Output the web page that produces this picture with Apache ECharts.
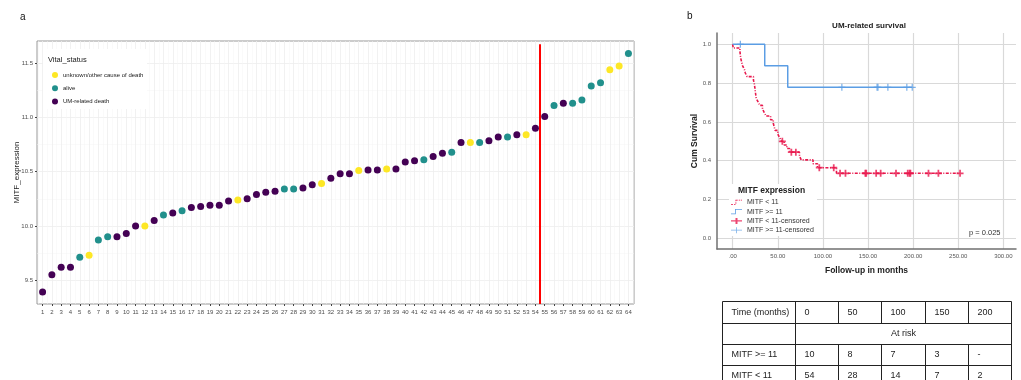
<!DOCTYPE html>
<html>
<head>
<meta charset="utf-8">
<script src="https://cdn.jsdelivr.net/npm/echarts@6/dist/echarts.min.js"></script>
<style>html,body{margin:0;padding:0;background:#fff}#c{width:1021px;height:380px}</style>
</head>
<body>
<div id="c"></div>
<script>
// ---------- Panel a data ----------
const sampleIds = [1,2,3,4,5,6,7,8,9,10,11,12,13,14,15,16,17,18,19,20,21,22,23,24,25,26,27,28,29,30,31,32,33,34,35,36,37,38,39,40,41,42,43,44,45,46,47,48,49,50,51,52,53,54,55,56,57,58,59,60,61,62,63,64];
const mitfExpression = [9.39,9.55,9.62,9.62,9.71,9.73,9.87,9.90,9.90,9.93,10.00,10.00,10.05,10.10,10.12,10.14,10.17,10.18,10.19,10.19,10.23,10.24,10.25,10.29,10.31,10.32,10.34,10.34,10.35,10.38,10.39,10.44,10.48,10.48,10.51,10.515,10.515,10.525,10.525,10.59,10.60,10.61,10.64,10.67,10.68,10.77,10.77,10.77,10.785,10.82,10.82,10.84,10.84,10.90,11.01,11.11,11.13,11.13,11.16,11.29,11.32,11.44,11.475,11.59];
const vitalStatus = ['D','D','D','D','A','U','A','A','D','D','D','U','D','A','D','A','D','D','D','D','D','U','D','D','D','D','A','A','D','D','U','D','D','D','U','D','D','U','D','D','D','A','D','D','A','D','U','A','D','D','A','D','U','D','D','A','D','A','A','A','A','U','U','A'];
const statusCodes = ['U','A','D'];
const statusNames = ['unknown/other cause of death','alive','UM-related death'];
const cutoffPosition = 54.5;
const yTicksA = [9.5,10.0,10.5,11.0,11.5];
const yMinorA = [9.75,10.25,10.75,11.25];

// ---------- Panel b data ----------
const redTimes = [0,0.5,8,8.5,9,10,11,13,14,16,23,24,24.5,25,25.5,26,28,30,33,35,37,42,45,46,47,50,52,54,57,60,63,74,76,89,94,115,252];
const redSurv  = [1.0,0.981,0.963,0.944,0.926,0.907,0.889,0.870,0.852,0.833,0.815,0.796,0.778,0.759,0.741,0.722,0.704,0.685,0.667,0.648,0.630,0.611,0.593,0.574,0.556,0.537,0.519,0.500,0.481,0.463,0.444,0.424,0.404,0.384,0.364,0.335,0.335];
const redCensored = [55,65,70,96,112,119,125,147,148,159,164,181,194,196,197,217,228,252];
const blueTimes = [0,35.5,61,199];
const blueSurv  = [1.0,0.889,0.778,0.778];
const blueCensored = [8.5,121,160,161,172,193,199];
const kmTimeTicks = [0,50,100,150,200,250,300];
const kmSurvTicks = [0,0.2,0.4,0.6,0.8,1.0];
const kmNames = ['MITF < 11','MITF >= 11','MITF < 11-censored','MITF >= 11-censored'];
const pValueText = 'p = 0.025';

// ---------- Table data ----------
const tableHeader = ['Time (months)','0','50','100','150','200'];
const atRiskLabel = 'At risk';
const rowHigh = ['MITF >= 11','10','8','7','3','-'];
const rowLow  = ['MITF < 11','54','28','14','7','2'];

// ---------- styles ----------
const statusColors = ['#FDE725','#21908C','#440154'];
const RED = '#e8174c', BLUE = '#5b9de4';
const FONT = '"Liberation Sans", Arial, sans-serif';
const plusRed = 'path://M3,0H5V3H8V5H5V8H3V5H0V3H3Z';
const plusBlue = 'path://M3.3,0H4.7V3.3H8V4.7H4.7V8H3.3V4.7H0V3.3H3.3Z';
const iconRedStep = 'path://M0,13h4v1.6h-4z M6,13h3v1.6h-3z M9,9h1.6v3h-1.6z M9,4h1.6v3h-1.6z M10.6,4h3v1.6h-3z M15.5,4h3v1.6h-3z M20,4h2v1.6h-2z';
const iconBlueStep = 'path://M0,13H8V4H22V5.6H9.6V14.6H0Z';
const iconRedPlus = 'path://M0,6.7H9V2H13V6.7H22V9.3H13V14H9V9.3H0Z';
const iconBluePlus = 'path://M0,7.3H10.2V2H11.8V7.3H22V8.7H11.8V14H10.2V8.7H0Z';

function survAt(times, surv, t) {
  let s = surv[0];
  for (let i = 0; i < times.length; i++) { if (times[i] <= t) s = surv[i]; }
  return s;
}
const minorX = sampleIds.map(v => v - 0.5).concat([sampleIds[sampleIds.length-1] + 0.5]);

const scatterSeries = statusCodes.map((code, k) => ({
  type: 'scatter', name: statusNames[k], xAxisIndex: 0, yAxisIndex: 0,
  symbolSize: 7, z: 3,
  itemStyle: { color: statusColors[k], opacity: 1, borderWidth: 0 },
  data: sampleIds.map((id, i) => vitalStatus[i] === code ? [id, mitfExpression[i]] : null).filter(Boolean)
}));
scatterSeries[0].markLine = {
  silent: true, symbol: 'none', label: { show: false },
  lineStyle: { color: '#ff0000', width: 2, type: 'solid' },
  data: [[{ coord: [cutoffPosition, 9.28] }, { coord: [cutoffPosition, 11.675] }]]
};

// table graphics
const tX = [722.5, 795.5, 838.5, 881.5, 925.5, 968.5, 1011.5];
const tY = [301.5, 323.5, 344.5, 365.5, 386.5];
const tableEls = [];
const lineStyle = { stroke: '#222', lineWidth: 1 };
tY.forEach(y => tableEls.push({ type: 'line', shape: { x1: tX[0], y1: y, x2: tX[6], y2: y }, style: lineStyle, z: 10 }));
[0, 1, 6].forEach(c => tableEls.push({ type: 'line', shape: { x1: tX[c], y1: tY[0], x2: tX[c], y2: tY[4] }, style: lineStyle, z: 10 }));
[2, 3, 4, 5].forEach(c => {
  tableEls.push({ type: 'line', shape: { x1: tX[c], y1: tY[0], x2: tX[c], y2: tY[1] }, style: lineStyle, z: 10 });
  tableEls.push({ type: 'line', shape: { x1: tX[c], y1: tY[2], x2: tX[c], y2: tY[4] }, style: lineStyle, z: 10 });
});
function cellText(txt, x, y, align) {
  return { type: 'text', x: x, y: y, z: 11,
    style: { text: txt, fill: '#222', font: '9px ' + FONT, textAlign: align || 'left', textVerticalAlign: 'middle', verticalAlign: 'middle' } };
}
[tableHeader, null, rowHigh, rowLow].forEach((row, r) => {
  const yc = (tY[r] + tY[r + 1]) / 2;
  if (row) row.forEach((v, c) => tableEls.push(cellText(v, tX[c] + 9, yc)));
  else tableEls.push(cellText(atRiskLabel, (tX[1] + tX[6]) / 2, yc, 'center'));
});

function txt(t, x, y, font, align, fill, rot) {
  return { type: 'text', x: x, y: y, z: 11, rotation: rot || 0,
    style: { text: t, fill: fill || '#111', font: font, textAlign: align || 'left', textVerticalAlign: 'middle', verticalAlign: 'middle' } };
}

const option = {
  animation: false,
  backgroundColor: '#fff',
  textStyle: { fontFamily: FONT },
  grid: [
    { left: 37, top: 41, width: 597, height: 263, show: true, borderColor: '#999', borderWidth: 1, backgroundColor: 'transparent' },
    { left: 717, top: 33, width: 299, height: 216 }
  ],
  xAxis: [
    { gridIndex: 0, type: 'value', min: 0.4, max: 64.6, position: 'bottom',
      axisLine: { show: false, onZero: false },
      axisTick: { show: true, length: 2, lineStyle: { color: '#444' }, customValues: sampleIds },
      axisLabel: { customValues: sampleIds, fontSize: 6, color: '#4d4d4d', margin: 5 },
      splitLine: { show: true, lineStyle: { color: '#eeeeee', width: 0.8 } } },
    { gridIndex: 0, type: 'value', min: 0.4, max: 64.6, position: 'top',
      axisLine: { show: false, onZero: false },
      axisTick: { show: false, customValues: minorX },
      axisLabel: { show: false },
      splitLine: { show: true, lineStyle: { color: '#f5f5f5', width: 0.5 } } },
    { gridIndex: 1, type: 'value', min: -17.4, max: 314, position: 'bottom',
      axisLine: { show: true, onZero: false, lineStyle: { color: '#707070', width: 1.5 } },
      axisTick: { show: false, customValues: kmTimeTicks },
      axisLabel: { customValues: kmTimeTicks, fontSize: 6, color: '#555', margin: 4,
        formatter: v => v === 0 ? '.00' : Number(v).toFixed(2) },
      splitLine: { show: true, lineStyle: { color: '#d9d9d9', width: 1.2 } },
      name: 'Follow-up in months', nameLocation: 'middle', nameGap: 17,
      nameTextStyle: { fontWeight: 'bold', fontSize: 8.5, color: '#222' } }
  ],
  yAxis: [
    { gridIndex: 0, type: 'value', min: 9.28, max: 11.705,
      axisLine: { show: false, onZero: false },
      axisTick: { show: true, length: 2, lineStyle: { color: '#444' }, customValues: yTicksA },
      axisLabel: { customValues: yTicksA, fontSize: 6, color: '#4d4d4d', margin: 4, formatter: v => Number(v).toFixed(1) },
      splitLine: { show: true, lineStyle: { color: '#eeeeee', width: 0.8 } } },
    { gridIndex: 0, type: 'value', min: 9.28, max: 11.705, position: 'right',
      axisLine: { show: false, onZero: false },
      axisTick: { show: false, customValues: yMinorA },
      axisLabel: { show: false },
      splitLine: { show: true, lineStyle: { color: '#f5f5f5', width: 0.5 } } },
    { gridIndex: 1, type: 'value', min: -0.055, max: 1.058,
      axisLine: { show: true, onZero: false, lineStyle: { color: '#707070', width: 1.5 } },
      axisTick: { show: false, customValues: kmSurvTicks },
      axisLabel: { customValues: kmSurvTicks, fontSize: 6, color: '#555', margin: 6, formatter: v => Number(v).toFixed(1) },
      splitLine: { show: true, lineStyle: { color: '#d9d9d9', width: 1.2 } },
      name: 'Cum Survival', nameLocation: 'middle', nameGap: 18,
      nameTextStyle: { fontWeight: 'bold', fontSize: 8.5, color: '#222' } }
  ],
  legend: [
    { data: statusNames, orient: 'vertical', left: 52, top: 72, padding: 0,
      itemWidth: 6, itemHeight: 6, itemGap: 7.3, icon: 'circle', selectedMode: false,
      textStyle: { fontSize: 6, color: '#222', lineHeight: 6 } },
    { data: [
        { name: kmNames[0], icon: iconRedStep },
        { name: kmNames[1], icon: iconBlueStep },
        { name: kmNames[2], icon: iconRedPlus },
        { name: kmNames[3], icon: iconBluePlus }
      ],
      orient: 'vertical', left: 731, top: 198.3, padding: 0,
      itemWidth: 11, itemHeight: 8, itemGap: 1.3, selectedMode: false,
      itemStyle: { borderWidth: 0 },
      textStyle: { fontSize: 7, color: '#333', lineHeight: 8 } }
  ],
  graphic: [
    { type: 'rect', shape: { x: 43, y: 49, width: 104, height: 60 }, style: { fill: '#fff' }, z: 1 },
    { type: 'rect', shape: { x: 729, y: 184, width: 88, height: 52 }, style: { fill: '#fff' }, z: 1 },
    txt('a', 20, 17, '10px ' + FONT),
    txt('b', 687, 16, '10px ' + FONT),
    txt('MITF_expression', 17, 172.5, '8px ' + FONT, 'center', '#222', Math.PI / 2),
    txt('Vital_status', 48, 60, '7.5px ' + FONT, 'left', '#222'),
    txt('UM-related survival', 869, 25.7, 'bold 8px ' + FONT, 'center', '#222'),
    txt('MITF expression', 738, 191, 'bold 8.5px ' + FONT, 'left', '#222'),
    txt(pValueText, 969, 232.7, '7.5px ' + FONT, 'left', '#333')
  ].concat(tableEls),
  series: scatterSeries.concat([
    { type: 'line', name: kmNames[0], xAxisIndex: 2, yAxisIndex: 2, step: 'end', symbol: 'none', z: 3,
      color: RED, itemStyle: { color: RED },
      lineStyle: { color: RED, width: 1.6, type: [3, 1.5, 1, 1.5] },
      data: redTimes.map((t, i) => [t, redSurv[i]]) },
    { type: 'line', name: kmNames[1], xAxisIndex: 2, yAxisIndex: 2, step: 'end', symbol: 'none', z: 3,
      color: BLUE, itemStyle: { color: BLUE },
      lineStyle: { color: BLUE, width: 1.5 },
      data: blueTimes.map((t, i) => [t, blueSurv[i]]) },
    { type: 'scatter', name: kmNames[2], xAxisIndex: 2, yAxisIndex: 2, symbol: plusRed, symbolSize: 7, z: 4,
      itemStyle: { color: RED, borderWidth: 0 },
      data: redCensored.map(t => [t, survAt(redTimes, redSurv, t)]) },
    { type: 'scatter', name: kmNames[3], xAxisIndex: 2, yAxisIndex: 2, symbol: plusBlue, symbolSize: 7, z: 4,
      itemStyle: { color: BLUE, borderWidth: 0 },
      data: blueCensored.map(t => [t, survAt(blueTimes, blueSurv, t)]) }
  ])
};
const chart = echarts.init(document.getElementById('c'), null, { renderer: 'canvas' });
chart.setOption(option);
</script>
</body>
</html>
